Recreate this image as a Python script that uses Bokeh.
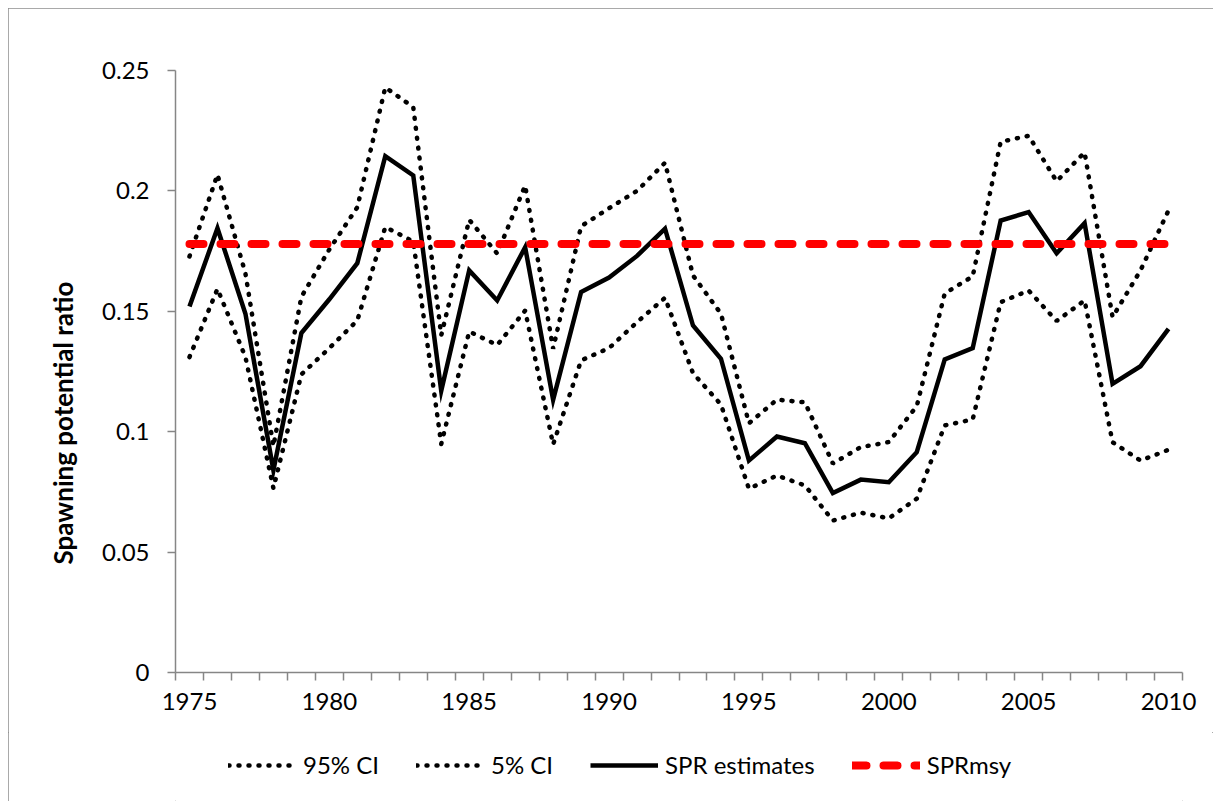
from bokeh.plotting import figure
from bokeh.models import (ColumnDataSource, FixedTicker, NumeralTickFormatter, Range1d,
                          Legend, LegendItem, Title)
from bokeh.layouts import column
from bokeh.embed import file_html
from bokeh.resources import INLINE

years = list(range(1975, 2011))
spr_estimates = [0.152, 0.1845, 0.149, 0.084, 0.141, 0.155, 0.170, 0.2144, 0.2064, 0.117,
                 0.167, 0.1545, 0.1766, 0.1132, 0.158, 0.164, 0.173, 0.1843, 0.1441, 0.1303,
                 0.088, 0.098, 0.0952, 0.0745, 0.0801, 0.079, 0.0915, 0.130, 0.1347, 0.1877,
                 0.1912, 0.1741, 0.1866, 0.1199, 0.1272, 0.1427]
ci95 = [0.1728, 0.2068, 0.1657, 0.094, 0.156, 0.1757, 0.1932, 0.243, 0.2348, 0.140,
        0.188, 0.174, 0.2022, 0.1345, 0.1853, 0.1928, 0.200, 0.2117, 0.1649, 0.149,
        0.1035, 0.1133, 0.1122, 0.0868, 0.0936, 0.0957, 0.1106, 0.1574, 0.1645, 0.2204,
        0.2229, 0.204, 0.216, 0.1476, 0.167, 0.1919]
ci5 = [0.131, 0.1593, 0.131, 0.0765, 0.1238, 0.1347, 0.1462, 0.185, 0.179, 0.0949,
       0.1416, 0.136, 0.1503, 0.0947, 0.1296, 0.1347, 0.1455, 0.1556, 0.1243, 0.1113,
       0.0763, 0.0818, 0.0777, 0.0631, 0.0664, 0.064, 0.0722, 0.1026, 0.1051, 0.1538,
       0.1586, 0.146, 0.1545, 0.0956, 0.088, 0.0925]
spr_msy = [0.178] * len(years)
y_ticks = [0, 0.05, 0.1, 0.15, 0.2, 0.25]
x_label_years = [1975, 1980, 1985, 1990, 1995, 2000, 2005, 2010]
y_title = "Spawning potential ratio"
series_names = ["95% CI", "5% CI", "SPR estimates", "SPRmsy"]

src = ColumnDataSource(dict(year=years, spr=spr_estimates, ci95=ci95, ci5=ci5, msy=spr_msy))

FONT = "Lato"
AX = "#868686"
STYLES = {
    "ci95": dict(line_color="black", line_width=4.5, line_dash="1 9", line_cap="round"),
    "ci5": dict(line_color="black", line_width=4.5, line_dash="1 9", line_cap="round"),
    "spr": dict(line_color="black", line_width=4.5, line_join="miter"),
    "msy": dict(line_color="#ff0000", line_width=8, line_dash="14 17", line_cap="round"),
}

p = figure(width=1205, height=724, output_backend="svg", toolbar_location=None,
           x_range=Range1d(1974.5, 2010.5), y_range=Range1d(0, 0.25),
           min_border_left=167, min_border_right=31, min_border_top=62, min_border_bottom=60)
p.outline_line_color = None
p.xgrid.visible = False
p.ygrid.visible = False
p.background_fill_color = "white"
p.border_fill_color = "white"

p.line("year", "ci95", source=src, **STYLES["ci95"])
p.line("year", "ci5", source=src, **STYLES["ci5"])
p.line("year", "spr", source=src, **STYLES["spr"])
p.line("year", "msy", source=src, **STYLES["msy"])

# axes
xa = p.xaxis[0]
xa.ticker = FixedTicker(ticks=x_label_years, minor_ticks=[y - 0.5 for y in years] + [2010.5])
xa.axis_line_color = AX
xa.axis_line_width = 1.5
xa.major_tick_out = 0
xa.major_tick_in = 0
xa.minor_tick_out = 8
xa.minor_tick_in = 0
xa.minor_tick_line_color = AX
xa.minor_tick_line_width = 1.5
xa.major_label_text_font = FONT
xa.major_label_text_font_size = "24px"
xa.major_label_text_color = "black"
xa.major_label_standoff = 12

ya = p.yaxis[0]
ya.ticker = FixedTicker(ticks=y_ticks, minor_ticks=[])
ya.formatter = NumeralTickFormatter(format="0.[00]")
ya.axis_line_color = AX
ya.axis_line_width = 1.5
ya.major_tick_out = 8
ya.major_tick_in = 0
ya.major_tick_line_color = AX
ya.major_tick_line_width = 1.5
ya.minor_tick_out = 0
ya.minor_tick_in = 0
ya.major_label_text_font = FONT
ya.major_label_text_font_size = "24px"
ya.major_label_text_color = "black"
ya.major_label_standoff = 18

title = Title(text=y_title, align="left", offset=108, standoff=42,
              text_font=FONT, text_font_style="bold", text_font_size="26px",
              text_color="black")
p.add_layout(title, "left")

# legend strip under the chart (its frame is aligned with the chart's frame)
lg = figure(width=1205, height=69, output_backend="svg", toolbar_location=None,
            x_range=Range1d(0, 1), y_range=Range1d(0, 1),
            min_border_left=0, min_border_right=0, min_border_top=0, min_border_bottom=0)
lg.axis.visible = False
lg.xgrid.visible = False
lg.ygrid.visible = False
lg.outline_line_color = None
lg.background_fill_color = "white"
lg.border_fill_color = "white"
hidden = ColumnDataSource(dict(x=[-5, -4], y=[-5, -5]))
rr = {k: lg.line("x", "y", source=hidden, **STYLES[k]) for k in ["ci95", "ci5", "spr", "msy"]}

legend = Legend(items=[LegendItem(label=series_names[0], renderers=[rr["ci95"]]),
                       LegendItem(label=series_names[1], renderers=[rr["ci5"]]),
                       LegendItem(label=series_names[2], renderers=[rr["spr"]]),
                       LegendItem(label=series_names[3], renderers=[rr["msy"]])],
                orientation="horizontal", location=(53, 22),
                glyph_width=68, glyph_height=26, label_standoff=7, spacing=37,
                padding=0, margin=0, border_line_color=None, background_fill_alpha=0,
                label_text_font=FONT, label_text_font_size="24px", label_text_color="black")
lg.add_layout(legend, "center")

layout = column(p, lg, spacing=0)
layout.styles = {"margin-left": "8px", "margin-top": "8px",
                 "outline": "1px solid #8c8c8c", "outline-offset": "-1px"}

open("out.html", "w").write(file_html(layout, INLINE))
